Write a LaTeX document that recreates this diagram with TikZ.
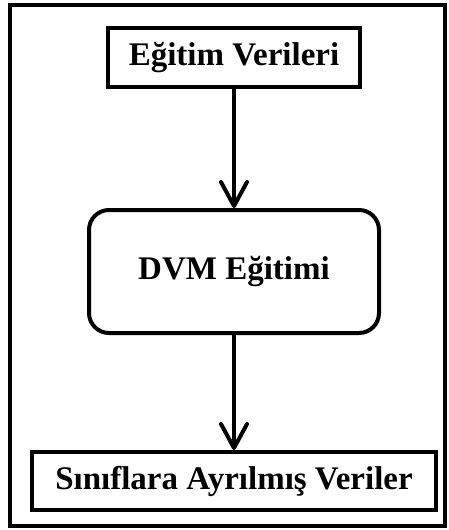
\documentclass[tikz,border=0pt]{standalone}
\usepackage{fontspec}
\setmainfont{Liberation Serif}
\usetikzlibrary{arrows.meta}

\begin{document}
\begin{tikzpicture}[x=1pt,y=-1pt,line width=4pt,
  font=\fontsize{33}{40}\selectfont\bfseries,
  >={Straight Barb[length=24pt,width=26pt,line cap=round,line join=round]},
  kutu/.style={draw,rectangle,inner sep=0pt,fill=white}]
\useasboundingbox (0,0) rectangle (449,530);
\draw (10,5) rectangle (445,526);
\node[kutu,minimum width=252pt,minimum height=59pt] (egitim) at (234,57.5) {Eğitim Verileri};
\node[kutu,rounded corners=20pt,minimum width=290pt,minimum height=123pt] (dvm) at (234,271.5) {DVM Eğitimi};
\node[kutu,minimum width=404pt,minimum height=58pt] (siniflar) at (234,481) {Sınıflara Ayrılmış Veriler};
\draw[->] (egitim) -- (dvm);
\draw[->] (dvm) -- (siniflar);
\end{tikzpicture}
\end{document}
